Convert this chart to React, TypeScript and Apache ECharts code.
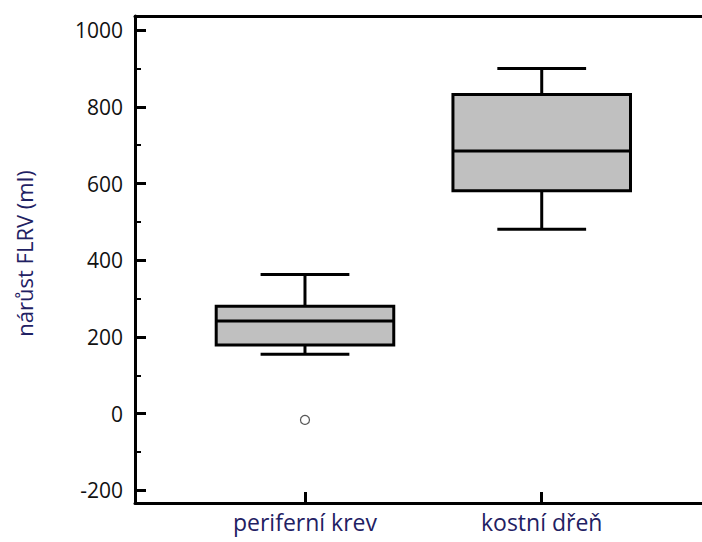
import React, { useEffect, useRef } from "react";
import * as echarts from "echarts";

const categories = ["periferní krev", "kostní dřeň"];
const positions = [1, 2];
const whiskerLow = [155, 481];
const q1 = [179, 581];
const medians = [242, 685];
const q3 = [280, 832];
const whiskerHigh = [363, 900];
const outliers = [[1, -16]];
const yMajorTicks = [-200, 0, 200, 400, 600, 800, 1000];
const yMinorTicks = [-100, 100, 300, 500, 700, 900];

const X_MIN = 0.282;
const X_MAX = 2.677;
const Y_MIN = -232.6;
const Y_MAX = 1036.5;
const BOX_W = 0.75;
const CAP_W = 0.375;
const NAVY = "#1f2163";
const FONT = "Open Sans";

export default function App() {
  const ref = useRef<HTMLDivElement>(null);
  useEffect(() => {
    if (!ref.current) return;
    const chart = echarts.init(ref.current, null, { renderer: "svg" });
    const boxData = positions.map((p, i) => [p, whiskerLow[i], q1[i], medians[i], q3[i], whiskerHigh[i]]);
    const lineStyle = { stroke: "#000", lineWidth: 3 };
    const option: any = {
      animation: false,
      backgroundColor: "#fff",
      grid: { left: 135, right: 0, top: 16, bottom: 39, containLabel: false },
      xAxis: [
        {
          type: "value",
          position: "bottom",
          min: X_MIN,
          max: X_MAX,
          splitLine: { show: false },
          axisLine: { show: true, onZero: false, lineStyle: { color: "#000", width: 3 } },
          axisTick: { show: true, inside: true, length: 11, lineStyle: { color: "#000", width: 3 }, customValues: positions },
          axisLabel: {
            customValues: positions,
            formatter: (v: number) => categories[positions.indexOf(Math.round(v))] ?? "",
            color: NAVY,
            fontSize: 23,
            fontFamily: FONT,
            margin: 7,
          },
        },
        {
          type: "value",
          position: "top",
          min: X_MIN,
          max: X_MAX,
          splitLine: { show: false },
          axisLine: { show: true, onZero: false, lineStyle: { color: "#000", width: 3 } },
          axisTick: { show: false },
          axisLabel: { show: false },
        },
      ],
      yAxis: [
        {
          type: "value",
          position: "left",
          min: Y_MIN,
          max: Y_MAX,
          splitLine: { show: false },
          axisLine: { show: true, onZero: false, lineStyle: { color: "#000", width: 3 } },
          axisTick: { show: true, inside: true, length: 11, lineStyle: { color: "#000", width: 3 }, customValues: yMajorTicks },
          axisLabel: {
            customValues: yMajorTicks,
            formatter: (v: number) => String(Math.round(v)),
            color: "#111",
            fontSize: 21,
            fontFamily: FONT,
            margin: 12,
          },
          name: "nárůst FLRV (ml)",
          nameLocation: "middle",
          nameGap: 100,
          nameTextStyle: { color: NAVY, fontSize: 22, fontFamily: FONT, padding: [0, 0, 0, 12] },
        },
        {
          type: "value",
          position: "left",
          min: Y_MIN,
          max: Y_MAX,
          splitLine: { show: false },
          axisLine: { show: false, onZero: false },
          axisTick: { show: true, inside: true, length: 6, lineStyle: { color: "#000", width: 2 }, customValues: yMinorTicks },
          axisLabel: { show: false },
        },
      ],
      series: [
        {
          type: "custom",
          xAxisIndex: 0,
          yAxisIndex: 0,
          data: boxData,
          encode: { x: 0, y: [1, 2, 3, 4, 5] },
          renderItem: (params: any, api: any) => {
            const x = api.value(0);
            const pLo = api.coord([x, api.value(1)]);
            const pA = api.coord([x, api.value(2)]);
            const pM = api.coord([x, api.value(3)]);
            const pB = api.coord([x, api.value(4)]);
            const pHi = api.coord([x, api.value(5)]);
            const bw = api.size([BOX_W, 0])[0];
            const cw = api.size([CAP_W, 0])[0];
            const cx = pLo[0];
            const ln = (x1: number, y1: number, x2: number, y2: number) => ({
              type: "line",
              shape: { x1, y1, x2, y2 },
              style: lineStyle,
            });
            return {
              type: "group",
              children: [
                ln(cx, pHi[1], cx, pB[1]),
                ln(cx, pA[1], cx, pLo[1]),
                ln(cx - cw / 2, pHi[1], cx + cw / 2, pHi[1]),
                ln(cx - cw / 2, pLo[1], cx + cw / 2, pLo[1]),
                {
                  type: "rect",
                  shape: { x: cx - bw / 2, y: pB[1], width: bw, height: pA[1] - pB[1] },
                  style: { fill: "#c0c0c0", stroke: "#000", lineWidth: 3 },
                },
                ln(cx - bw / 2, pM[1], cx + bw / 2, pM[1]),
              ],
            };
          },
        },
        {
          type: "scatter",
          xAxisIndex: 0,
          yAxisIndex: 0,
          data: outliers,
          symbol: "circle",
          symbolSize: 9,
          itemStyle: { color: "#fff", borderColor: "#555", borderWidth: 1.2, opacity: 1 },
        },
      ],
    };
    chart.setOption(option);
    return () => chart.dispose();
  }, []);
  return <div ref={ref} style={{ position: "fixed", left: 0, top: 0, width: 702, height: 542 }} />;
}
